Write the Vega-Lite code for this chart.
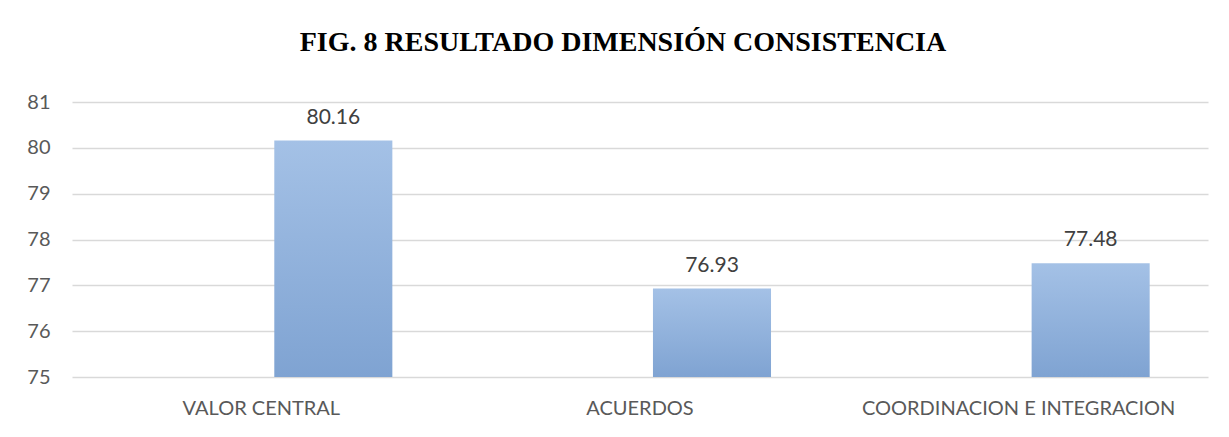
{
  "$schema": "https://vega.github.io/schema/vega-lite/v6.json",
  "width": 1136,
  "height": 275,
  "autosize": {"type": "none"},
  "padding": {"left": 72, "top": 102, "right": 21, "bottom": 60},
  "background": "white",
  "title": {
    "text": "FIG. 8 RESULTADO DIMENSIÓN CONSISTENCIA",
    "font": "Liberation Serif",
    "fontSize": 28,
    "fontWeight": "bold",
    "color": "#000000",
    "anchor": "middle",
    "dx": -17,
    "offset": 35
  },
  "data": {
    "values": [
      {"dimension": "VALOR CENTRAL", "serie": "Serie2", "valor": 80.16},
      {"dimension": "ACUERDOS", "serie": "Serie2", "valor": 76.93},
      {"dimension": "COORDINACION E INTEGRACION", "serie": "Serie2", "valor": 77.48}
    ]
  },
  "encoding": {
    "x": {
      "field": "dimension",
      "type": "nominal",
      "sort": null,
      "scale": {"paddingInner": 0.308, "paddingOuter": 0.154},
      "axis": {
        "title": null,
        "labelAngle": 0,
        "labelFont": "Lato",
        "labelFontSize": 20,
        "labelColor": "#595959",
        "labelPadding": 21,
        "labelLimit": 0,
        "ticks": false,
        "domain": false,
        "grid": false
      }
    },
    "xOffset": {
      "field": "serie",
      "type": "nominal",
      "scale": {"domain": ["Serie1", "Serie2"], "paddingInner": 0.18, "paddingOuter": 0}
    },
    "y": {
      "field": "valor",
      "type": "quantitative",
      "scale": {"domain": [75, 81], "zero": false, "nice": false},
      "axis": {
        "title": null,
        "values": [75, 76, 77, 78, 79, 80, 81],
        "labelFont": "Lato",
        "labelFontSize": 20,
        "labelColor": "#595959",
        "labelPadding": 22,
        "ticks": false,
        "domain": false,
        "gridColor": "#d9d9d9",
        "gridWidth": 1.5
      }
    }
  },
  "layer": [
    {
      "mark": {
        "type": "bar",
        "fill": {
          "gradient": "linear",
          "x1": 0, "y1": 0, "x2": 0, "y2": 1,
          "stops": [
            {"offset": 0, "color": "#a4c1e6"},
            {"offset": 1, "color": "#7fa3d2"}
          ]
        }
      },
      "encoding": {
        "y2": {"datum": 75}
      }
    },
    {
      "mark": {
        "type": "text",
        "baseline": "alphabetic",
        "dy": -17,
        "font": "Lato",
        "fontSize": 21,
        "color": "#404040"
      },
      "encoding": {
        "text": {"field": "valor", "type": "quantitative", "format": ".2f"}
      }
    }
  ],
  "config": {
    "view": {"stroke": null}
  }
}
